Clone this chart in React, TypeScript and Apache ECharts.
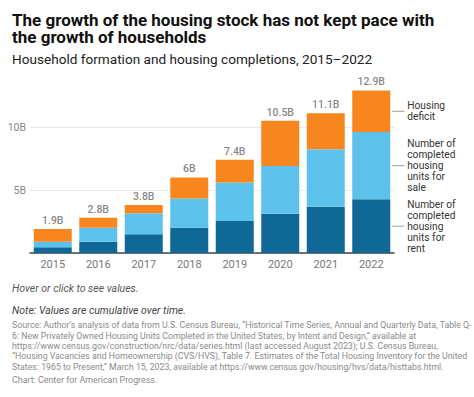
import React, { useEffect, useRef } from "react";
import * as echarts from "echarts";

const years = ["2015", "2016", "2017", "2018", "2019", "2020", "2021", "2022"];
const rentUnits = [0.45, 0.9, 1.48, 2.0, 2.54, 3.12, 3.67, 4.26];
const saleUnits = [0.45, 1.1, 1.67, 2.33, 3.06, 3.78, 4.56, 5.34];
const housingDeficit = [1.0, 0.8, 0.65, 1.67, 1.8, 3.6, 2.87, 3.3];
const yTicks = [0, 5, 10, 15];

const seriesNames = [
  "Number of\ncompleted\nhousing\nunits for\nrent",
  "Number of\ncompleted\nhousing\nunits for\nsale",
  "Housing\ndeficit",
];
const colors = ["#0F6896", "#5DC2EB", "#F8861E"];

const titleLines = ["The growth of the housing stock has not kept pace with", "the growth of households"];
const subtitleText = "Household formation and housing completions, 2015\u20132022";
const hoverText = "Hover or click to see values.";
const noteText = "Note: Values are cumulative over time.";
const sourceLines = [
  "Source: Author\u2019s analysis of data from U.S. Census Bureau, \u201cHistorical Time Series, Annual and Quarterly Data, Table Q-",
  "6: New Privately Owned Housing Units Completed in the United States, by Intent and Design,\u201d available at",
  "https://www.census.gov/construction/nrc/data/series.html (last accessed August 2023); U.S. Census Bureau,",
  "\u201cHousing Vacancies and Homeownership (CVS/HVS), Table 7. Estimates of the Total Housing Inventory for the United",
  "States: 1965 to Present,\u201d March 15, 2023, available at https://www.census.gov/housing/hvs/data/histtabs.html.",
];
const creditText = "Chart: Center for American Progress.";

const FONT = "Roboto, 'Noto Sans', sans-serif";
const BAR_W = 38;

export default function App() {
  const ref = useRef<HTMLDivElement>(null);
  useEffect(() => {
    document.body.style.margin = "0";
    if (!ref.current) return;
    const chart = echarts.init(ref.current, null, { renderer: "svg" });
    const stacks = [rentUnits, saleUnits, housingDeficit];
    const totals = years.map((_, i) => stacks.reduce((s, a) => s + a[i], 0));
    const last = years.length - 1;

    const series: any[] = stacks.map((arr, si) => ({
      type: "bar",
      stack: "total",
      name: seriesNames[si],
      barWidth: BAR_W,
      itemStyle: { color: colors[si] },
      data: arr.map((v, i) =>
        i === last
          ? {
              value: v,
              label: {
                show: true,
                position: "right",
                distance: 17,
                formatter: seriesNames[si],
                color: "#333",
                fontFamily: FONT,
                fontSize: 10.2,
                lineHeight: 11,
                align: "left",
              },
            }
          : v
      ),
    }));
    series.push({
      type: "scatter",
      symbolSize: 0,
      data: totals,
      z: 10,
      label: {
        show: true,
        position: "top",
        distance: 3,
        color: "#666",
        fontFamily: FONT,
        fontSize: 10.5,
        fontWeight: 500,
        formatter: (p: any) => Number(p.value.toFixed(1)) + "B",
      },
    });

    const baseGraphics: any[] = [
      {
        id: "title1",
        type: "text",
        left: 12,
        top: 11,
        style: { text: titleLines[0], font: `bold 17px ${FONT}`, fill: "#111" },
      },
      {
        id: "title2",
        type: "text",
        left: 12,
        top: 28.5,
        style: { text: titleLines[1], font: `bold 17px ${FONT}`, fill: "#111" },
      },
      {
        id: "subtitle",
        type: "text",
        left: 12,
        top: 52,
        style: { text: subtitleText, font: `13.6px ${FONT}`, fill: "#222" },
      },
      {
        id: "hover",
        type: "text",
        left: 12,
        top: 283,
        style: { text: hoverText, font: `italic 10.5px ${FONT}`, fill: "#555" },
      },
      {
        id: "note",
        type: "text",
        left: 12,
        top: 305,
        style: { text: noteText, font: `italic 10.5px ${FONT}`, fill: "#444" },
      },
      {
        id: "source",
        type: "text",
        left: 12,
        top: 320,
        style: { text: sourceLines.join("\n"), font: `8.75px ${FONT}`, fill: "#8a8a8a", lineHeight: 10.4 },
      },
      {
        id: "credit",
        type: "text",
        left: 12,
        top: 375,
        style: { text: creditText, font: `8.9px ${FONT}`, fill: "#8a8a8a" },
      },
    ];

    chart.setOption({
      animation: false,
      textStyle: { fontFamily: FONT },
      grid: { left: 30, right: 80, top: 64, bottom: 144, containLabel: false },
      xAxis: {
        type: "category",
        data: years,
        axisTick: { show: false },
        axisLine: { lineStyle: { color: "#444", width: 1.5 } },
        axisLabel: { color: "#777", fontSize: 11, margin: 6, fontFamily: FONT },
      },
      yAxis: {
        type: "value",
        min: yTicks[0],
        max: yTicks[yTicks.length - 1],
        interval: yTicks[1] - yTicks[0],
        axisLabel: {
          color: "#888",
          fontSize: 10.5,
          margin: 4,
          fontFamily: FONT,
          formatter: (v: number) => (v === 0 || v === yTicks[yTicks.length - 1] ? "" : v + "B"),
        },
        splitLine: { lineStyle: { color: ["#e8e8e8", "#e8e8e8", "#e8e8e8", "rgba(0,0,0,0)"] } },
      },
      series,
      graphic: baseGraphics,
    });

    const leaders: any[] = [];
    let base = 0;
    stacks.forEach((arr, si) => {
      const mid = base + arr[last] / 2;
      base += arr[last];
      const p = chart.convertToPixel({ gridIndex: 0 }, [last, mid]) as number[];
      const xr = p[0] + BAR_W / 2;
      leaders.push({
        id: "leader" + si,
        type: "line",
        shape: { x1: xr + 2, y1: p[1], x2: xr + 14, y2: p[1] },
        style: { stroke: "#999", lineWidth: 1 },
      });
    });
    chart.setOption({ graphic: [...baseGraphics, ...leaders] });

    return () => chart.dispose();
  }, []);
  return <div ref={ref} style={{ width: 474, height: 397 }} />;
}
